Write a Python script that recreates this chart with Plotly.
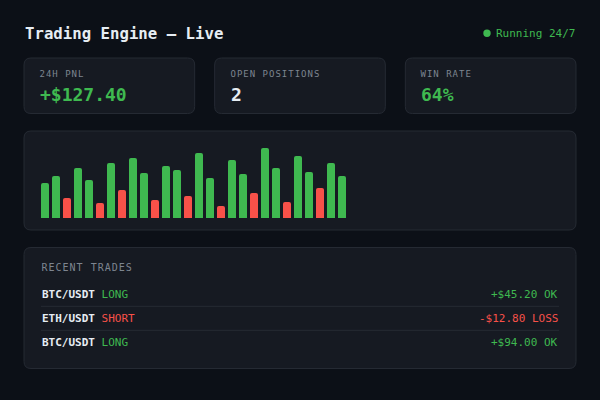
import json
import plotly.graph_objects as go

# ---- data ----
bar_values = [35, 42, 20, 50, 38, 15, 55, 28, 60, 45, 18, 52, 48, 22,
              65, 40, 12, 58, 44, 25, 70, 50, 16, 62, 46, 30, 55, 42]
bar_is_win = [True, True, False, True, True, False, True, False, True, True,
              False, True, True, False, True, True, False, True, True, False,
              True, True, False, True, True, False, True, True]
kpi_labels = ["24H PNL", "OPEN POSITIONS", "WIN RATE"]
kpi_values = ["+$127.40", "2", "64%"]
kpi_is_green = [True, False, True]
trade_pairs = ["BTC/USDT", "ETH/USDT", "BTC/USDT"]
trade_sides = ["LONG", "SHORT", "LONG"]
trade_pnls = ["+$45.20 OK", "-$12.80 LOSS", "+$94.00 OK"]
trade_is_win = [True, False, True]

W, H = 600, 400
BG = "#0c1017"
CARD = "#161a22"
BORDER = "#252a33"
GREEN = "#3fb950"
RED = "#f85149"
WHITE = "#e6edf3"
GRAY = "#7d8590"
FONT = "DejaVu Sans Mono"


def px(x):
    return x / W


def py(y):
    return 1 - y / H


def rrect(x0, y0, x1, y1, r):
    rx, ry = r / W, r / H
    X0, X1 = px(x0), px(x1)
    Y0, Y1 = py(y0), py(y1)  # Y0 top (bigger), Y1 bottom
    return (f"M {X0+rx},{Y0} L {X1-rx},{Y0} Q {X1},{Y0} {X1},{Y0-ry} "
            f"L {X1},{Y1+ry} Q {X1},{Y1} {X1-rx},{Y1} L {X0+rx},{Y1} "
            f"Q {X0},{Y1} {X0},{Y1+ry} L {X0},{Y0-ry} Q {X0},{Y0} {X0+rx},{Y0} Z")


shapes = []
annotations = []


def card(x0, y0, x1, y1):
    shapes.append(dict(type="path", path=rrect(x0, y0, x1, y1, 7),
                       xref="paper", yref="paper", fillcolor=CARD,
                       line=dict(color=BORDER, width=1), layer="below"))


def text(x, y, s, size, color, anchor="left", bold=False):
    if bold:
        s = f"<b>{s}</b>"
    annotations.append(dict(x=px(x), y=py(y), xref="paper", yref="paper",
                            text=s, showarrow=False, xanchor=anchor,
                            yanchor="middle",
                            font=dict(family=FONT, size=size, color=color),
                            borderpad=0))


# header
text(24, 33, "Trading Engine — Live", 15.7, WHITE, bold=True)
text(576, 33, "Running 24/7", 11, GREEN, anchor="right")
shapes.append(dict(type="circle", xref="paper", yref="paper",
                   x0=px(483.3), x1=px(490.7), y0=py(29.6), y1=py(37.0),
                   fillcolor=GREEN, line=dict(width=0)))

# KPI cards
cw, gap = 170.67, 20
for i, (lab, val, g) in enumerate(zip(kpi_labels, kpi_values, kpi_is_green)):
    x0 = 24 + i * (cw + gap)
    card(x0, 58, x0 + cw, 113.5)
    text(x0 + 15, 73.8, lab, 9, GRAY)
    text(x0 + 15, 94, val, 18, GREEN if g else WHITE, bold=True)

# chart card
card(24, 131, 576, 230)

# trades card
card(24, 247.5, 576, 368.5)
text(41, 267.3, "RECENT TRADES", 10, GRAY)
row_y = [294, 318, 342]
for i, (p, s, v, w) in enumerate(zip(trade_pairs, trade_sides, trade_pnls, trade_is_win)):
    c = GREEN if w else RED
    text(41, row_y[i], f"<b>{p}</b> <span style='color:{c}'>{s}</span>", 11, WHITE)
    text(559, row_y[i], v, 11, c, anchor="right")
    if i < len(row_y) - 1:
        yl = row_y[i] + 12.3
        shapes.append(dict(type="line", xref="paper", yref="paper",
                           x0=px(41), x1=px(559), y0=py(yl), y1=py(yl),
                           line=dict(color="#262b34", width=1)))

# bars
n = len(bar_values)
pitch = 11
bx0 = 41 - 1.5
bx1 = bx0 + n * pitch
base, top = 218, 148

fig = go.Figure(go.Bar(
    x=list(range(n)), y=bar_values,
    marker=dict(color=[GREEN if w else RED for w in bar_is_win], line=dict(width=0)),
    hoverinfo="skip",
))
fig.update_layout(
    width=W, height=H, margin=dict(l=0, r=0, t=0, b=0),
    paper_bgcolor=BG, plot_bgcolor="rgba(0,0,0,0)",
    bargap=3 / 11, barcornerradius=2, showlegend=False,
    xaxis=dict(domain=[px(bx0), px(bx1)], range=[-0.5, n - 0.5], visible=False,
               fixedrange=True),
    yaxis=dict(domain=[py(base), py(top)], range=[0, 70], visible=False,
               fixedrange=True),
    shapes=shapes, annotations=annotations,
)

spaced = json.dumps(kpi_labels + ["RECENT TRADES"])
post = (
    "document.body.style.margin='0';"
    "document.body.style.background='" + BG + "';"
    "document.body.style.overflow='hidden';"
    "var sp=" + spaced + ";"
    "document.querySelectorAll('text.annotation-text').forEach(function(t){"
    "if(sp.indexOf(t.textContent)>=0){"
    "t.style.letterSpacing='1px';"
    "var x=parseFloat(t.getAttribute('x'))||0;"
    "t.setAttribute('x', x + (t.textContent.length-1)/2);}});"
)
fig.write_html("out.html", config=dict(displayModeBar=False), post_script=post)
